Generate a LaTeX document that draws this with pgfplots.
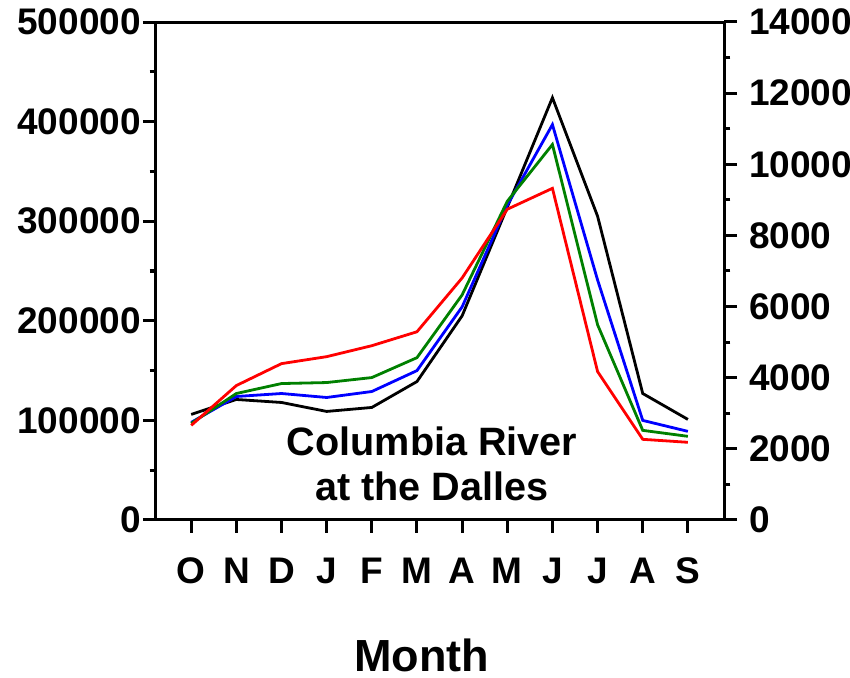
\documentclass[border=0pt]{standalone}
\usepackage{pgfplots}
\pgfplotsset{compat=1.18}
\usepackage{pgfplotstable}
\usepackage{fontspec}
\setmainfont{Liberation Sans}

% Monthly mean discharge (cfs), water year October--September
% columns: month index, then four records
\pgfplotstableread{
m   k       b       g       r
0   106000  98000   97000   95000
1   121000  124000  127000  135000
2   118000  127000  137000  157000
3   109000  123000  138000  164000
4   113000  129000  143000  175000
5   139000  150000  163000  189000
6   205000  214000  226000  243000
7   314000  316000  320000  312000
8   424000  397000  377000  333000
9   305000  241000  196000  149000
10  127000  100000  90000   81000
11  101000  89000   84000   78000
}\flowdata

\definecolor{rgreen}{RGB}{0,128,0}

\begin{document}
\begin{tikzpicture}
\useasboundingbox (-78pt,-79pt) rectangle (347pt,260pt);
\pgfplotsset{
  every axis/.append style={
    scale only axis, width=284pt, height=249pt,
    at={(0,0)}, anchor=south west,
    line width=1.5pt,
    tick align=outside,
    major tick length=6.5pt, minor tick length=3.2pt,
    every tick/.style={line width=1.5pt, black},
    scaled y ticks=false,
    /pgf/number format/assume math mode=true,
    /pgf/number format/.cd, fixed, 1000 sep={},
  },
}
\begin{axis}[
  xmin=-0.78, xmax=11.8,
  ymin=0, ymax=500000,
  xtick={0,...,11},
  xticklabels={O,N,D,J,F,M,A,M,J,J,A,S},
  xtick pos=bottom, ytick pos=left,
  ytick={0,100000,...,500000},
  minor y tick num=1,
  tick label style={font=\bfseries\fontsize{18.5}{20}\selectfont},
  xticklabel style={yshift=-8.5pt},
  yticklabel style={xshift=3pt},
  xlabel={Month},
  xlabel style={font=\bfseries\fontsize{22.5}{24}\selectfont,
    at={(axis description cs:0.468,0)}, anchor=center, yshift=-67.5pt},
]
\addplot[black, line width=1.4pt] table[x=m, y=k] {\flowdata};
\addplot[blue, line width=1.4pt] table[x=m, y=b] {\flowdata};
\addplot[rgreen, line width=1.4pt] table[x=m, y=g] {\flowdata};
\addplot[red, line width=1.4pt] table[x=m, y=r] {\flowdata};
\node[align=center, font=\bfseries\fontsize{19.8}{22.5}\selectfont]
  at (rel axis cs:0.486,0.113) {Columbia River\\at the Dalles};
\end{axis}
\begin{axis}[
  xmin=-0.78, xmax=11.8,
  ymin=0, ymax=14000,
  axis x line=none,
  axis y line*=right,
  ytick={0,2000,...,14000},
  minor y tick num=1,
  tick label style={font=\bfseries\fontsize{18.5}{20}\selectfont},
  yticklabel style={xshift=2pt},
]
\end{axis}
\end{tikzpicture}
\end{document}
